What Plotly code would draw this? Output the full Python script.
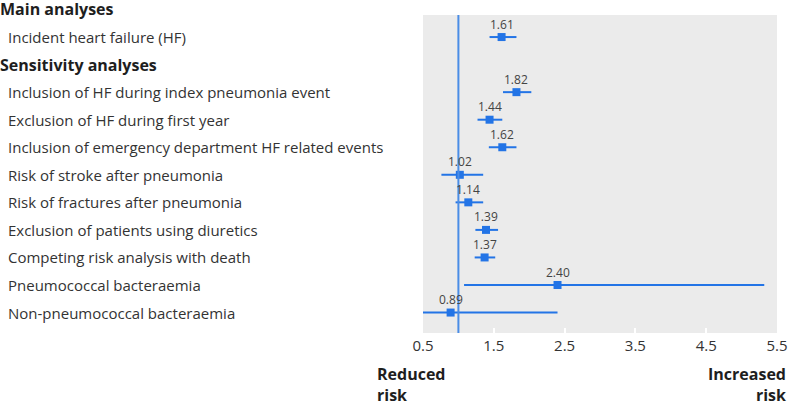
import plotly.graph_objects as go

# Data
rows = ["Main analyses", "Incident heart failure (HF)", "Sensitivity analyses",
        "Inclusion of HF during index pneumonia event", "Exclusion of HF during first year",
        "Inclusion of emergency department HF related events", "Risk of stroke after pneumonia",
        "Risk of fractures after pneumonia", "Exclusion of patients using diuretics",
        "Competing risk analysis with death", "Pneumococcal bacteraemia",
        "Non-pneumococcal bacteraemia"]
headers = ["Main analyses", "Sensitivity analyses"]
hr = [None, 1.61, None, 1.82, 1.44, 1.62, 1.02, 1.14, 1.39, 1.37, 2.40, 0.89]
ci_low = [None, 1.44, None, 1.63, 1.27, 1.43, 0.76, 0.96, 1.24, 1.23, 1.08, 0.33]
ci_high = [None, 1.82, None, 2.03, 1.62, 1.82, 1.35, 1.35, 1.56, 1.52, 5.32, 2.40]
tick_vals = [0.5, 1.5, 2.5, 3.5, 4.5, 5.5]
tick_text = ["0.5", "1.5", "2.5", "3.5", "4.5", "5.5"]

BLUE = "#2374e6"
FONT = "Open Sans"

W, H = 790, 405
L, R, T, B = 423, 777, 15, 333
pw, ph = R - L, B - T
ROW0, ROWSTEP = 9.5, 27.55  # y pixel of first row centre, spacing


def row_to_paper(i):
    py = ROW0 + i * ROWSTEP
    return (B - py) / ph


y_top = (T - ROW0) / ROWSTEP
y_bot = (B - ROW0) / ROWSTEP

ys, xs, plus, minus = [], [], [], []
for i, (h, lo, hi) in enumerate(zip(hr, ci_low, ci_high)):
    if h is None:
        continue
    ys.append(i)
    xs.append(h)
    plus.append(hi - h)
    minus.append(h - lo)

fig = go.Figure()
fig.add_trace(go.Scatter(
    x=xs, y=ys, mode="markers",
    marker=dict(symbol="square", size=8, color=BLUE),
    error_x=dict(type="data", array=plus, arrayminus=minus, color=BLUE, thickness=2, width=0),
    hoverinfo="skip", showlegend=False,
))

fig.add_shape(type="line", x0=1, x1=1, y0=0, y1=1, xref="x", yref="paper",
              line=dict(color="#4a8de6", width=2))

for x, y in zip(xs, ys):
    fig.add_annotation(x=x, y=y, xref="x", yref="y", text=f"{x:.2f}", showarrow=False,
                       yshift=13, font=dict(family=FONT, size=12, color="#444"))

for i, name in enumerate(rows):
    is_header = name in headers
    px = -2 if is_header else 6
    fig.add_annotation(
        x=(px - L) / pw, xref="paper", y=row_to_paper(i), yref="paper",
        xanchor="left", yanchor="middle",
        text=f"<b>{name}</b>" if is_header else name, showarrow=False,
        font=dict(family=FONT, size=16 if is_header else 15, color="#1e1e1e" if is_header else "#333"),
    )

fig.add_annotation(x=(375 - L) / pw, xref="paper", y=(B - 384) / ph, yref="paper",
                   xanchor="left", yanchor="middle", align="left", showarrow=False,
                   text="<b>Reduced<br>risk</b>", font=dict(family=FONT, size=16, color="#1e1e1e"))
fig.add_annotation(x=(788 - L) / pw, xref="paper", y=(B - 384) / ph, yref="paper",
                   xanchor="right", yanchor="middle", align="right", showarrow=False,
                   text="<b>Increased<br>risk</b>", font=dict(family=FONT, size=16, color="#1e1e1e"))

fig.update_layout(
    width=W, height=H, autosize=False,
    margin=dict(l=L, r=W - R, t=T, b=H - B),
    paper_bgcolor="white", plot_bgcolor="#ebebeb",
    xaxis=dict(range=[0.5, 5.5], tickvals=tick_vals, ticktext=tick_text, automargin=False,
               showgrid=False, zeroline=False, ticks="inside", ticklen=5, tickwidth=2,
               tickcolor="white", ticklabelstandoff=2,
               tickfont=dict(family=FONT, size=15, color="#333")),
    yaxis=dict(range=[y_bot, y_top], showgrid=False, zeroline=False, automargin=False,
               showticklabels=False, ticks=""),
)

fig.write_html("out.html",
               config={"displayModeBar": False, "responsive": False},
               post_script="document.documentElement.style.overflow='hidden';"
                           "document.body.style.margin='0';document.body.style.overflow='hidden';")
